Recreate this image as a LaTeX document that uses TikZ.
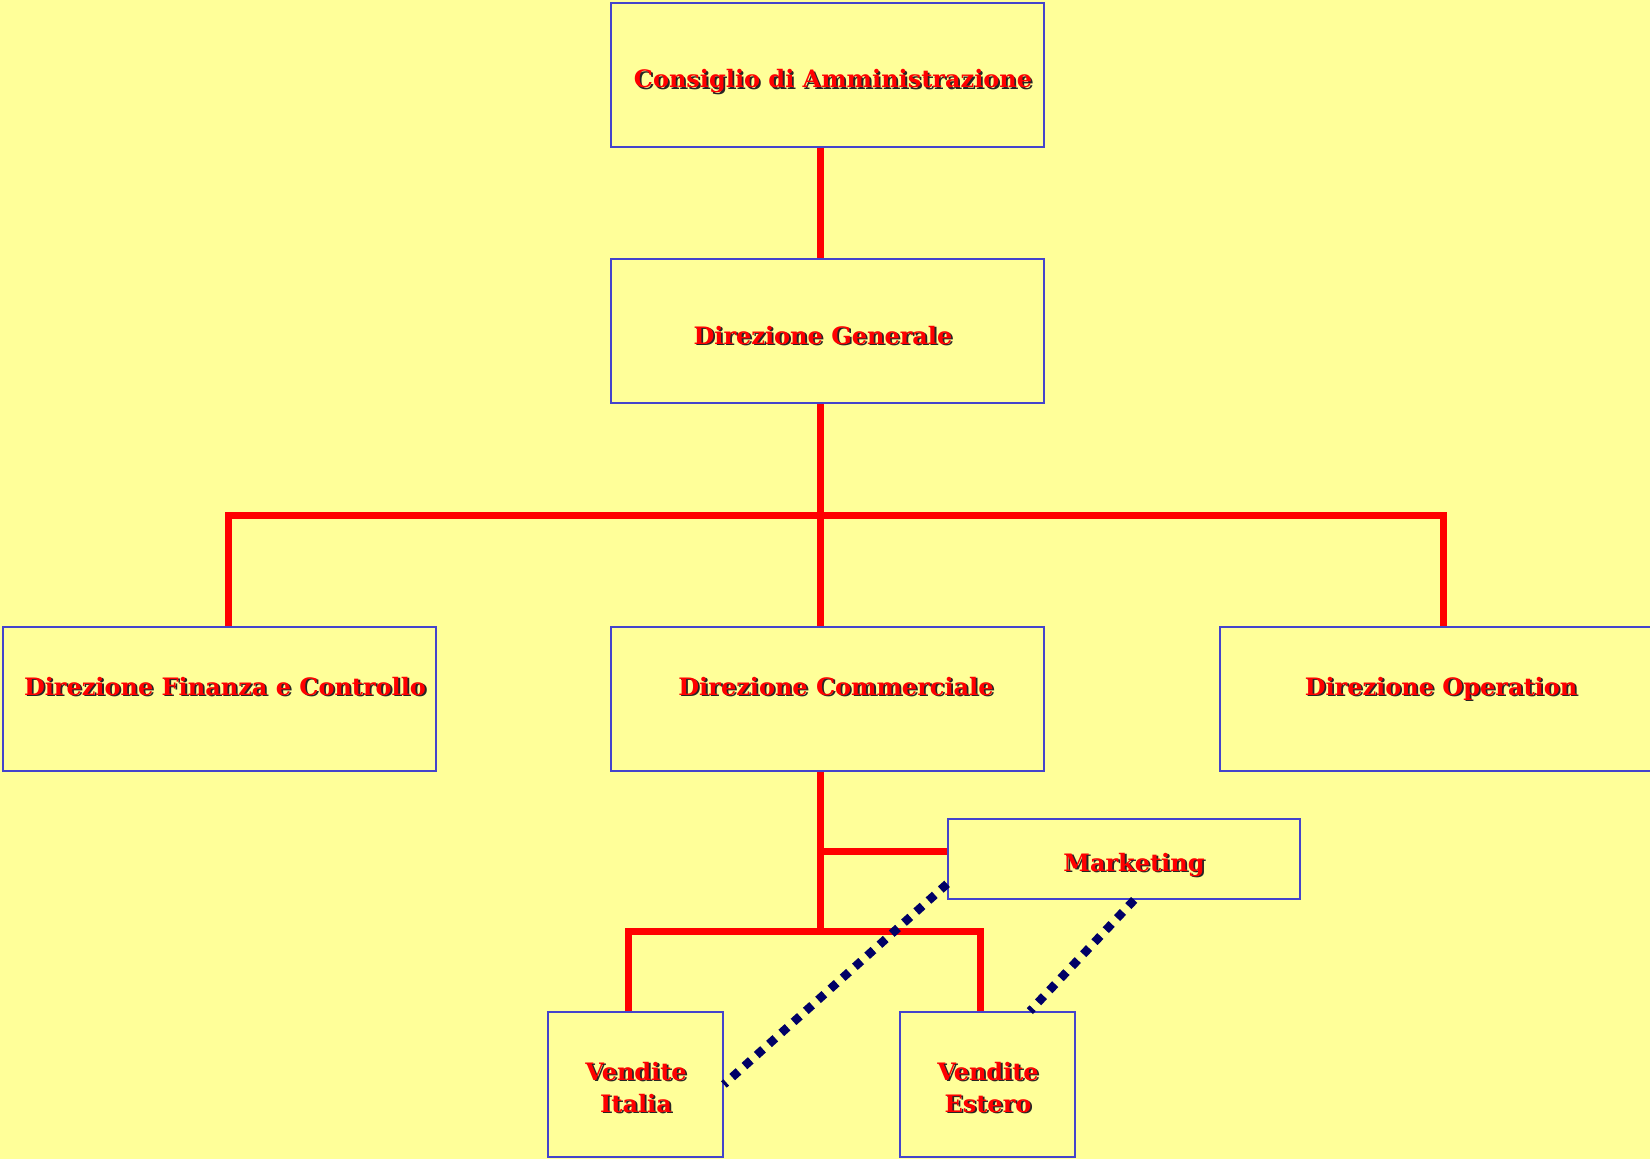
\documentclass[tikz,border=0pt]{standalone}
\usepackage{fontspec}
\setmainfont{DejaVu Serif}
\usetikzlibrary{positioning}

\definecolor{sfondo}{HTML}{FFFF99}
\definecolor{bordo}{HTML}{4444CC}
\definecolor{rosso}{HTML}{FF0000}
\definecolor{blunotte}{HTML}{000066}

% scritta rossa con ombra: nome, posizione, testo
\newcommand{\scritta}[3]{%
  \node[ombra, xshift=1.8pt, yshift=-1.8pt] (#1-o) at (#2) {#3};
  \node[testo] (#1) at (#2) {#3};}

\begin{document}
\begin{tikzpicture}[x=1pt, y=-1pt]

\tikzstyle{box}=[
    draw=bordo,
    fill=sfondo,
    line width=1.8pt,
    inner sep=0pt,
    minimum width=433pt,
    minimum height=144pt
]
\tikzstyle{testo}=[text=rosso, font=\bfseries\fontsize{24}{32}\selectfont, inner sep=0pt, anchor=base, align=center]
\tikzstyle{ombra}=[testo, text=black!85]
\tikzstyle{ramo}=[draw=rosso, line width=7pt]
\tikzstyle{puntini}=[draw=blunotte, line width=8.5pt, dash pattern=on 8.5pt off 8pt]

\fill[sfondo] (0,0) rectangle (1650,1159);
\useasboundingbox (0,0) rectangle (1650,1159);

% caselle
\node[box] (CdA) at (827.5,75) {};
\node[box] (DG) at (827.5,331) {};
\node[box] (DFC) at (219.5,699) {};
\node[box] (DC) at (827.5,699) {};
\node[box] (DO) at (1436.5,699) {};
\node[box, minimum width=352pt, minimum height=80pt] (Mkt) at (1124,859) {};
\node[box, minimum width=175pt, minimum height=145pt] (VI) at (635.5,1084.5) {};
\node[box, minimum width=175pt, minimum height=145pt] (VE) at (987.5,1084.5) {};

% punti di raccordo
\coordinate (Asse) at (820,515);
\coordinate (SxA) at (228,515);
\coordinate (DxA) at (1443,515);
\coordinate (Nodo) at (820,931);
\coordinate (SxB) at (628,931);
\coordinate (DxB) at (980,931);
\coordinate (Mk) at (820,851);

% linee gerarchiche
\draw[ramo] (CdA.south -| Asse) -- (DG.north -| Asse);
\draw[ramo] (DG.south -| Asse) -- (DC.north -| Asse);
\draw[ramo] (SxA |- DFC.north) -- (SxA) -- (DxA) -- (DxA |- DO.north);
\draw[ramo] (DC.south -| Nodo) -- (Nodo);
\draw[ramo] (Mk) -- (Mk -| Mkt.west);
\draw[ramo] (SxB |- VI.north) -- (SxB) -- (DxB) -- (DxB |- VE.north);

% linee di staff
\draw[puntini] (Mkt.188) -- (VI.east);
\draw[puntini] (Mkt.-76) -- (VE.60);

% testi
\scritta{tCdA}{833,87.5}{Consiglio di Amministrazione}
\scritta{tDG}{823,344}{Direzione Generale}
\scritta{tDFC}{225,695}{Direzione Finanza e Controllo}
\scritta{tDC}{836,695}{Direzione Commerciale}
\scritta{tDO}{1441,695}{Direzione Operation}
\scritta{tMkt}{1134,871}{Marketing}
\scritta{tVI}{636,1112}{Vendite\\Italia}
\scritta{tVE}{988,1112}{Vendite\\Estero}

\end{tikzpicture}
\end{document}
